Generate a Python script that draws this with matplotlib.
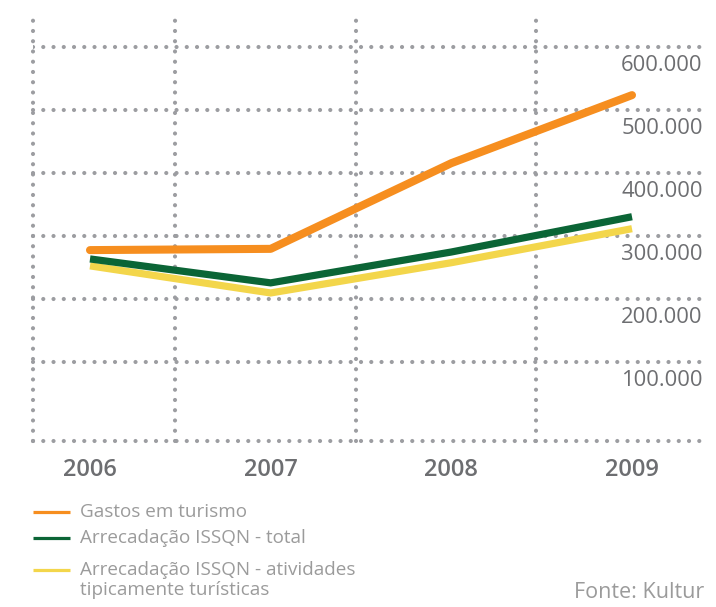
import matplotlib
matplotlib.use("Agg")
import matplotlib.pyplot as plt
from matplotlib.lines import Line2D
from matplotlib.ticker import FuncFormatter

years = [2006, 2007, 2008, 2009]
gastos_turismo = [303000, 305000, 441000, 549000]
issqn_total = [289000, 251000, 300000, 356000]
issqn_atividades = [278000, 235000, 283000, 337000]
series_labels = ["Gastos em turismo", "Arrecadação ISSQN - total",
                 "Arrecadação ISSQN - atividades\ntipicamente turísticas"]
y_ticks = [100000, 200000, 300000, 400000, 500000, 600000]
source_text = "Fonte: Kultur"

plt.rcParams['font.family'] = ['Open Sans', 'DejaVu Sans']
plt.rcParams['lines.dash_capstyle'] = 'round'

W, H = 716, 607
fig = plt.figure(figsize=(W / 100, H / 100), dpi=100)
left, right, top, bottom = 33, 704, 15, 441
ax = fig.add_axes([left / W, 1 - bottom / H, (right - left) / W, (bottom - top) / H])

px_per_year = (632 - 90) / 3.0
x0 = 2006 - (90 - left) / px_per_year
x1 = 2009 + (right - 632) / px_per_year
ax.set_xlim(x0, x1)
ax.set_ylim(0, (bottom - top) / 63.0 * 100000)

for s in ax.spines.values():
    s.set_visible(False)

grid_color = '#9c9da1'
dot = (0, (0.01, 2.45))
# decorative dotted grid
ax.set_xticks([x0, 2006.47, 2007.47, 2008.47], minor=True)
ax.set_yticks([0] + [v + 25000 for v in y_ticks], minor=True)
ax.grid(which='minor', color=grid_color, linewidth=3.0, linestyle=dot)
ax.grid(which='major', visible=False)
ax.tick_params(which='minor', length=0)
for t in ax.xaxis.get_minor_ticks() + ax.yaxis.get_minor_ticks():
    t.gridline.set_dash_capstyle('round')
    t.gridline.set_clip_on(False)

c_orange = '#f68e1f'
c_green = '#0b6536'
c_yellow = '#f3d64b'
colors = [c_orange, c_green, c_yellow]
ax.plot(years, issqn_atividades, color=c_yellow, lw=5.2, solid_capstyle='butt',
        solid_joinstyle='miter', zorder=3)
ax.plot(years, issqn_total, color=c_green, lw=5.2, solid_capstyle='butt',
        solid_joinstyle='miter', zorder=4)
ax.plot(years, gastos_turismo, color=c_orange, lw=5.8, solid_capstyle='round',
        zorder=5)

text_color = '#6d6e71'
ax.set_xticks(years)
ax.set_xticklabels([str(y) for y in years])
ax.tick_params(axis='x', which='major', length=0, pad=12, labelsize=17,
               labelcolor=text_color)
for lbl in ax.get_xticklabels():
    lbl.set_fontweight('semibold')

ax.yaxis.tick_right()
ax.set_yticks(y_ticks)
ax.yaxis.set_major_formatter(FuncFormatter(lambda v, p: f"{int(v):,}".replace(",", ".")))
ax.tick_params(axis='y', which='major', length=0, pad=-1, labelsize=15.8,
               labelcolor=text_color)
for lbl in ax.get_yticklabels():
    lbl.set_ha('right')

# legend (drawn manually so the handle aligns with the first line of text)
legend_color = '#9b9b9b'
row_y = [512, 538, 570]
for color, label, ry in zip(colors, series_labels, row_y):
    fig.add_artist(Line2D([33 / W, 70 / W], [1 - ry / H, 1 - ry / H],
                          color=color, lw=2.3, solid_capstyle='butt'))
    fig.text(80 / W, 1 - (ry - 9) / H, label, ha='left', va='top',
             fontsize=13.6, color=legend_color, linespacing=1.15)

fig.text(right / W, 1 - 592 / H, source_text, ha='right', va='center',
         fontsize=15.5, color=legend_color)

fig.savefig('out.png', dpi=100, facecolor='white')
